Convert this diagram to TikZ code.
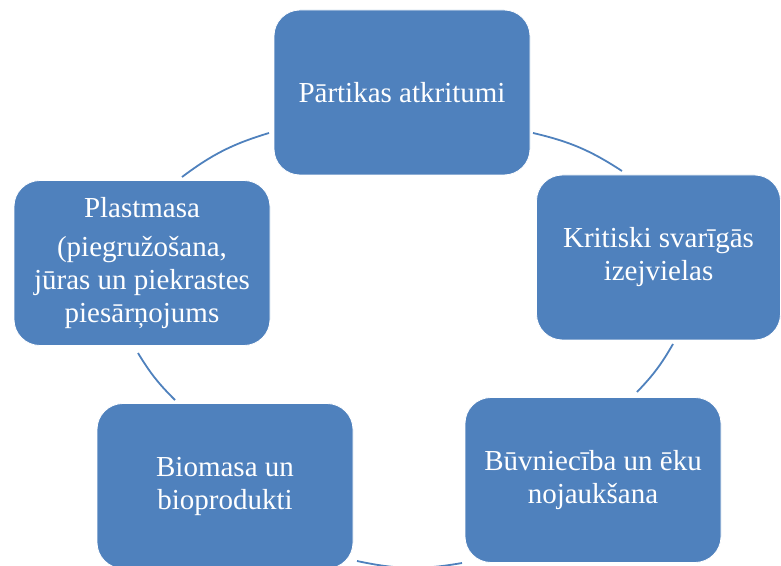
\documentclass[tikz,border=0pt]{standalone}
\usepackage{fontspec}
\setmainfont{Liberation Serif}
\definecolor{cycleblue}{RGB}{79, 129, 189}

\begin{document}
\begin{tikzpicture}[x=1pt, y=1pt,
    stage/.style={draw=white, line width=0.8pt, rounded corners=26pt, minimum width=256pt,
                  minimum height=165pt, fill=cycleblue, text=white, align=center,
                  inner sep=0pt, font=\fontsize{29}{33}\selectfont},
    link/.style={draw=cycleblue, line width=1.8pt}
]
    \useasboundingbox (0,0) rectangle (781,565);

    % the five stages
    \node[stage] (food) at (402,472.5) {Pārtikas atkritumi};
    \node[stage, minimum width=244pt] (raw) at (658.5,307.5) {Kritiski svarīgās\\izejvielas};
    \node[stage] (build) at (593,85) {Būvniecība un ēku\\nojaukšana};
    \node[stage] (bio) at (225,79) {Biomasa un\\bioprodukti};
    \node[stage] (plastic) at (142,302) {Plastmasa\\[6pt](piegružošana,\\jūras un piekrastes\\piesārņojums};

    % arc ends
    \coordinate (a1) at (182,388);  \coordinate (a2) at (269,432);
    \coordinate (b1) at (533,432);  \coordinate (b2) at (622,394);
    \coordinate (c1) at (673,221);  \coordinate (c2) at (637,173);
    \coordinate (d1) at (462,2);    \coordinate (d2) at (357,4);
    \coordinate (e1) at (175,165);  \coordinate (e2) at (138,212);

    \draw[link] (a1) to[bend left=10] (a2);
    \draw[link] (b1) to[bend left=10] (b2);
    \draw[link] (c1) to[bend left=7] (c2);
    \draw[link] (d1) to[bend left=11] (d2);
    \draw[link] (e1) to[bend left=7] (e2);
\end{tikzpicture}
\end{document}
